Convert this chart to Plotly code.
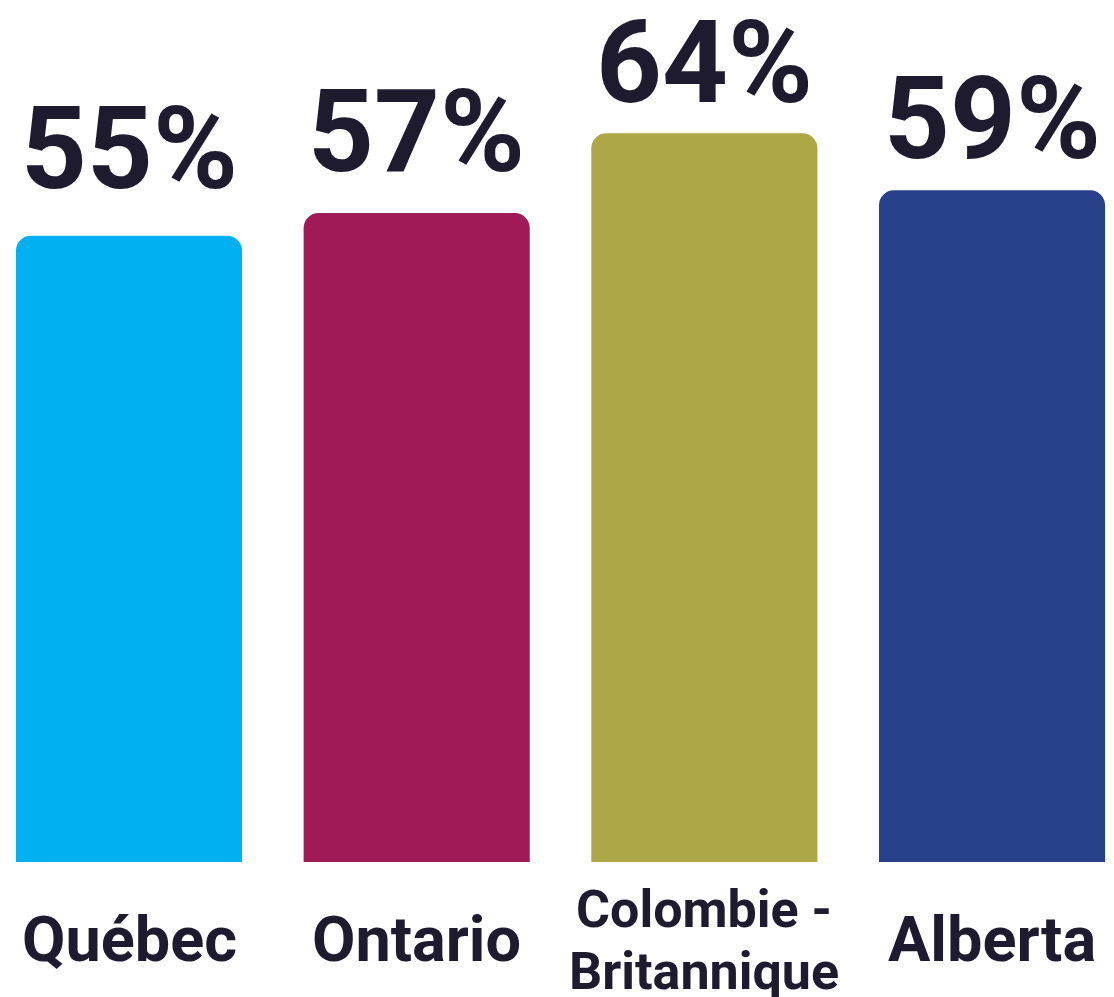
import plotly.graph_objects as go

provinces = ['Québec', 'Ontario', 'Colombie - Britannique', 'Alberta']
values = [55, 57, 64, 59]
labels = ['55%', '57%', '64%', '59%']
colors = ['#00B0F0', '#A01A58', '#ADA745', '#26418A']

ink = '#1E1B2F'
# écart (px) entre le chiffre et le haut de la barre
label_shift = [18, 12, 1, 2]

fig = go.Figure()
fig.add_trace(go.Bar(
    x=provinces,
    y=values,
    marker=dict(color=colors, line=dict(width=0), cornerradius=15),
    width=0.786,
    hoverinfo='skip',
))

# valeurs au-dessus des barres
for p, v, t, s in zip(provinces, values, labels, label_shift):
    fig.add_annotation(x=p, y=v, text=t, showarrow=False, yanchor='bottom', yshift=s,
                       font=dict(family='Roboto', size=115, color=ink, weight='bold'))

# noms des provinces sous les barres
for p in provinces:
    if p.startswith('Colombie'):
        fig.add_annotation(x=p, y=-0.0562, yref='paper', text='Colombie -', showarrow=False,
                           yanchor='middle', font=dict(family='Roboto', size=52, color=ink, weight='bold'))
        fig.add_annotation(x=p, y=-0.1288, yref='paper', text='Britannique', showarrow=False,
                           yanchor='middle', font=dict(family='Roboto', size=52, color=ink, weight='bold'))
    else:
        fig.add_annotation(x=p, y=-0.0913, yref='paper', text=p, showarrow=False, yanchor='middle',
                           font=dict(family='Roboto', size=63, color=ink, weight='bold'))

fig.update_layout(
    width=1106, height=989,
    margin=dict(l=0, r=0, t=0, b=135),
    plot_bgcolor='white', paper_bgcolor='white',
    showlegend=False,
    xaxis=dict(range=[-0.4206, 3.424], showticklabels=False, showgrid=False, zeroline=False, showline=False),
    yaxis=dict(range=[0, 75.01], visible=False, showgrid=False),
)

fig.write_html("out.html")
